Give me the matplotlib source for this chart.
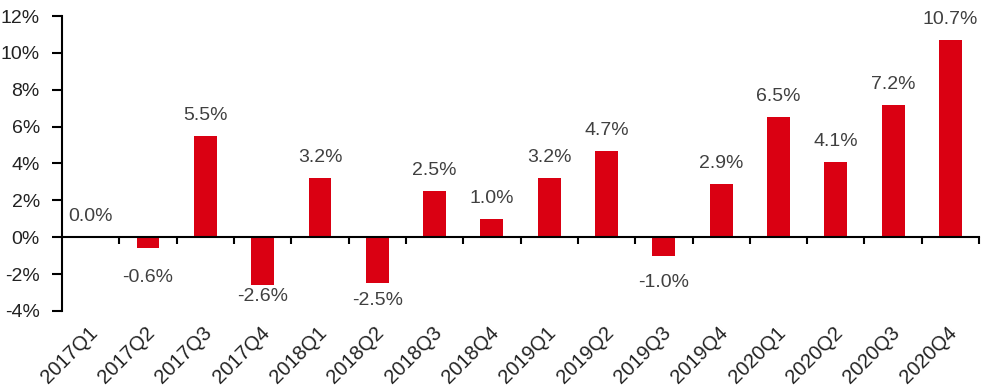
import matplotlib
matplotlib.use("Agg")
import matplotlib.pyplot as plt
from matplotlib.ticker import FuncFormatter, MultipleLocator

QUARTERS = ["2017Q1", "2017Q2", "2017Q3", "2017Q4",
            "2018Q1", "2018Q2", "2018Q3", "2018Q4",
            "2019Q1", "2019Q2", "2019Q3", "2019Q4",
            "2020Q1", "2020Q2", "2020Q3", "2020Q4"]
GROWTH = [0.0, -0.6, 5.5, -2.6,
          3.2, -2.5, 2.5, 1.0,
          3.2, 4.7, -1.0, 2.9,
          6.5, 4.1, 7.2, 10.7]
# gap (points) under the negative labels, as in the source image
NEG_OFFSETS = {1: 15, 3: 2, 5: 6, 10: 13}

BAR_COLOR = "#DA0012"
LABEL_COLOR = "#404040"
TICK_COLOR = "#222222"

plt.rcParams["font.family"] = ["Liberation Sans", "DejaVu Sans"]

fig = plt.figure(figsize=(9.85, 3.92), dpi=100)
ax = fig.add_axes([0.063, 0.207, 0.931, 0.752])

x = list(range(len(QUARTERS)))
ax.bar(x, GROWTH, width=0.40, color=BAR_COLOR, zorder=2)

ax.set_xlim(-0.5, len(QUARTERS) - 0.5)
ax.set_ylim(-4, 12)
ax.yaxis.set_major_locator(MultipleLocator(2))
ax.yaxis.set_major_formatter(FuncFormatter(lambda v, p: f"{v:.0f}%"))
ax.tick_params(axis="y", length=7, width=1.5, labelsize=14,
               labelcolor=TICK_COLOR, pad=9)

# zero line with tick marks between the categories
for s in ["top", "right"]:
    ax.spines[s].set_visible(False)
ax.spines["left"].set_linewidth(1.5)
ax.spines["bottom"].set_position(("data", 0))
ax.spines["bottom"].set_linewidth(1.5)
ax.set_xticks([i + 0.5 for i in x])
ax.tick_params(axis="x", length=5, width=1.5, labelbottom=False)

# category names below the plot area
for i, q in enumerate(QUARTERS):
    ax.text(i - 0.05, -0.04, q, transform=ax.get_xaxis_transform(),
            rotation=45, rotation_mode="anchor", ha="right", va="top",
            fontsize=14.5, color=TICK_COLOR)

# value labels
for i, v in enumerate(GROWTH):
    if v >= 0:
        ax.annotate(f"{v:.1f}%", (i, v), xytext=(0, 11.5),
                    textcoords="offset points", ha="center", va="baseline",
                    fontsize=14, color=LABEL_COLOR)
    else:
        ax.annotate(f"{v:.1f}%", (i, v), xytext=(0, -NEG_OFFSETS.get(i, 8)),
                    textcoords="offset points", ha="center", va="top",
                    fontsize=14, color=LABEL_COLOR)

fig.savefig("out.png", dpi=100)
